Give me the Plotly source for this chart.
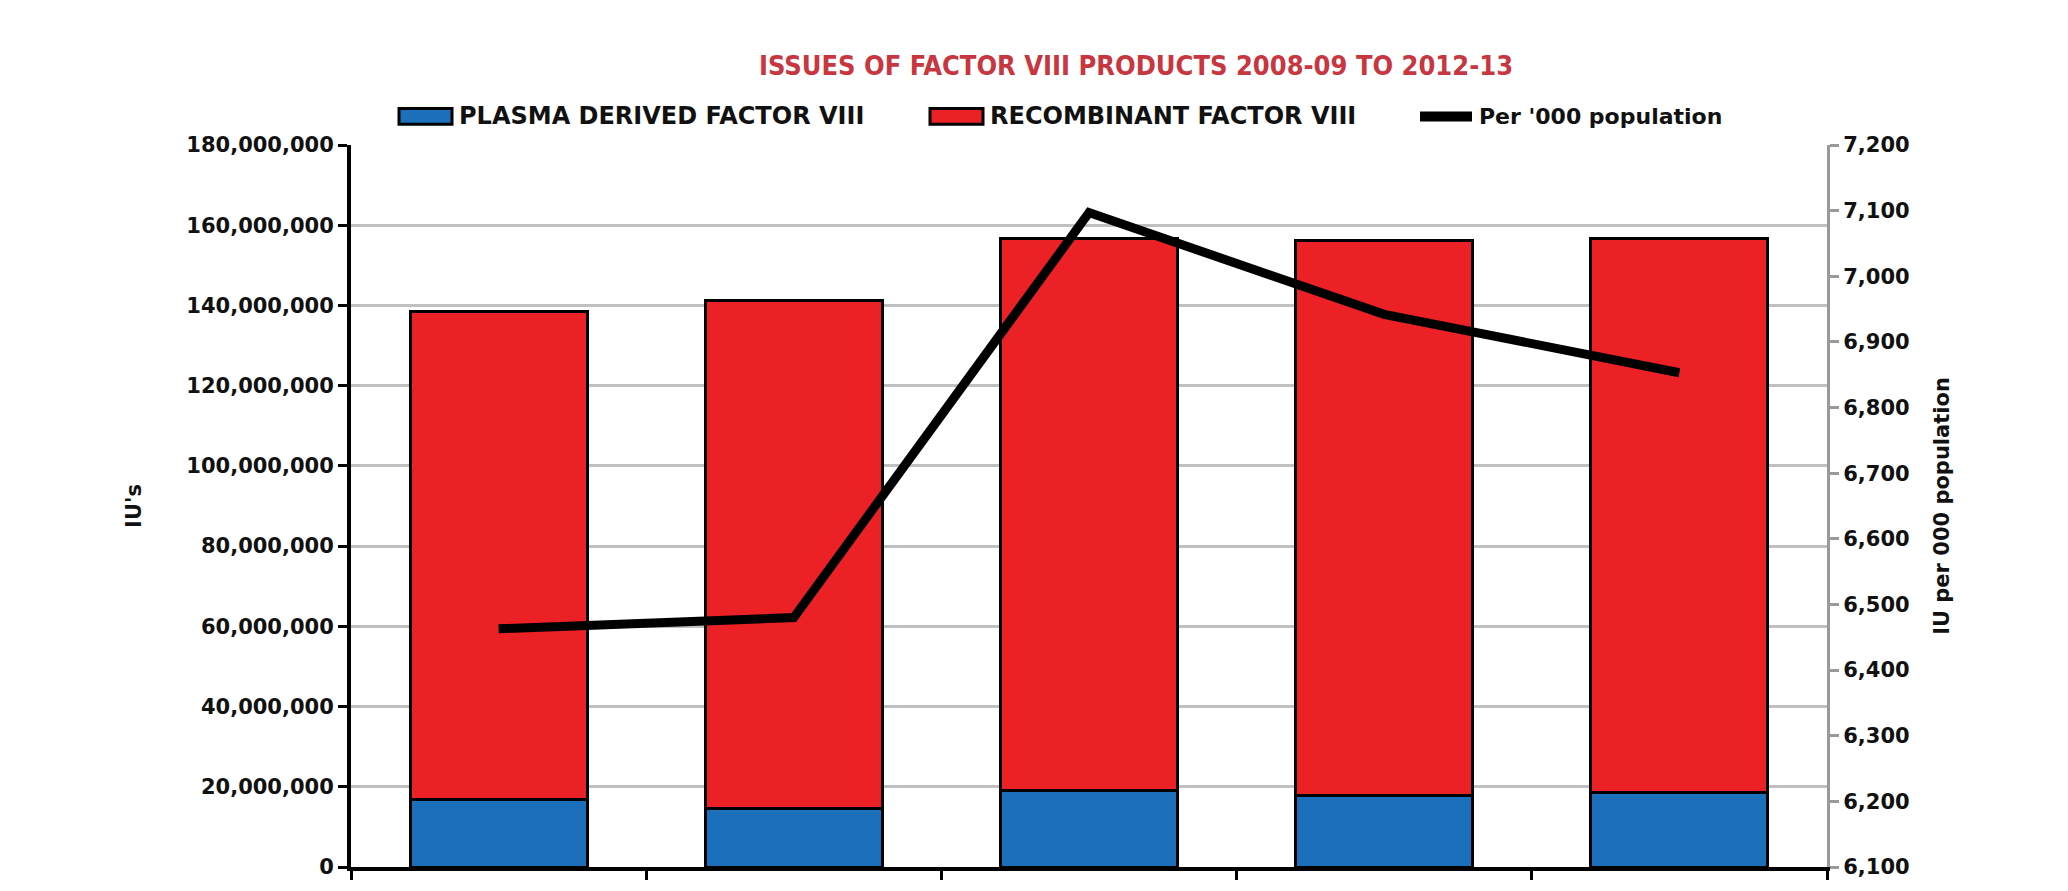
import plotly.graph_objects as go

categories = ["2008-09", "2009-10", "2010-11", "2011-12", "2012-13"]
plasma_derived = [16.9e6, 14.6e6, 19.1e6, 17.9e6, 18.5e6]
recombinant = [121.6e6, 126.6e6, 137.7e6, 138.4e6, 138.1e6]
per_000_pop = [6463, 6480, 7097, 6942, 6853]

title_text = "ISSUES OF FACTOR VIII PRODUCTS 2008-09 TO 2012-13"
legend_names = ["PLASMA DERIVED FACTOR VIII", "RECOMBINANT FACTOR VIII", "Per '000 population"]
blue = "#1c6fba"
red = "#ec2126"

W, H = 2068, 891
L, R, T, B = 351, 241, 145, 14
pw, ph = W - L - R, H - T - B

def px(x):
    return (x - L) / pw

def py(y):
    return (H - B - y) / ph

fig = go.Figure()
fig.add_trace(go.Bar(x=categories, y=plasma_derived, name=legend_names[0],
                     marker=dict(color=blue, line=dict(color="black", width=3)),
                     showlegend=False))
fig.add_trace(go.Bar(x=categories, y=recombinant, name=legend_names[1],
                     marker=dict(color=red, line=dict(color="black", width=3)),
                     showlegend=False))
fig.add_trace(go.Scatter(x=categories, y=per_000_pop, name=legend_names[2], yaxis="y2",
                         mode="lines", line=dict(color="black", width=9),
                         showlegend=False))

tick_font = dict(family="DejaVu Sans", size=21, color="#111111", weight="bold")

# manual legend
shapes = []
annotations = []
ly = 116
shapes.append(dict(type="rect", xref="paper", yref="paper",
                   x0=px(399), x1=px(452), y0=py(ly + 8), y1=py(ly - 8),
                   fillcolor=blue, line=dict(color="black", width=3)))
shapes.append(dict(type="rect", xref="paper", yref="paper",
                   x0=px(930), x1=px(983), y0=py(ly + 8), y1=py(ly - 8),
                   fillcolor=red, line=dict(color="black", width=3)))
shapes.append(dict(type="line", xref="paper", yref="paper",
                   x0=px(1420), x1=px(1472), y0=py(ly), y1=py(ly),
                   line=dict(color="black", width=10)))
for xs, txt, sz in [(457, legend_names[0], 24), (988, legend_names[1], 24), (1477, legend_names[2], 22)]:
    annotations.append(dict(xref="paper", yref="paper", x=px(xs), y=py(ly),
                            xanchor="left", yanchor="middle", showarrow=False,
                            text="<b>%s</b>" % txt,
                            font=dict(family="DejaVu Sans", size=sz, color="#111111")))

fig.update_layout(
    width=W, height=H,
    margin=dict(l=L, r=R, t=T, b=B),
    paper_bgcolor="white", plot_bgcolor="white",
    barmode="stack", bargap=0.4,
    title=dict(text="<b>%s</b>" % title_text, xref="container", x=1136 / W, xanchor="center",
               yref="container", y=1 - 66 / H, yanchor="middle",
               font=dict(family="Liberation Sans Narrow, DejaVu Sans Condensed", size=27, color="#c8363f")),
    xaxis=dict(type="category", tickson="boundaries", ticks="outside", ticklen=9,
               tickwidth=3, tickcolor="black", showticklabels=False,
               showline=True, linecolor="black", linewidth=4, showgrid=False,
               range=[-0.5, 4.5]),
    yaxis=dict(range=[0, 180e6], dtick=20e6, tickformat=",", ticks="outside",
               ticklen=9, tickwidth=3, tickcolor="black",
               showline=True, linecolor="black", linewidth=4,
               showgrid=True, gridcolor="#c0c0c0", gridwidth=3,
               zeroline=False, tickfont=tick_font,
               title=dict(text="<b>IU's</b>", font=tick_font, standoff=40)),
    yaxis2=dict(range=[6100, 7200], dtick=100, tickformat=",", overlaying="y", side="right",
                ticks="outside", ticklen=9, tickwidth=3, tickcolor="#999999",
                showline=True, linecolor="#999999", linewidth=3,
                showgrid=False, zeroline=False, tickfont=tick_font,
                title=dict(text="<b>IU per 000 population</b>", font=tick_font, standoff=26)),
    shapes=shapes, annotations=annotations,
)

fig.write_html("out.html")
